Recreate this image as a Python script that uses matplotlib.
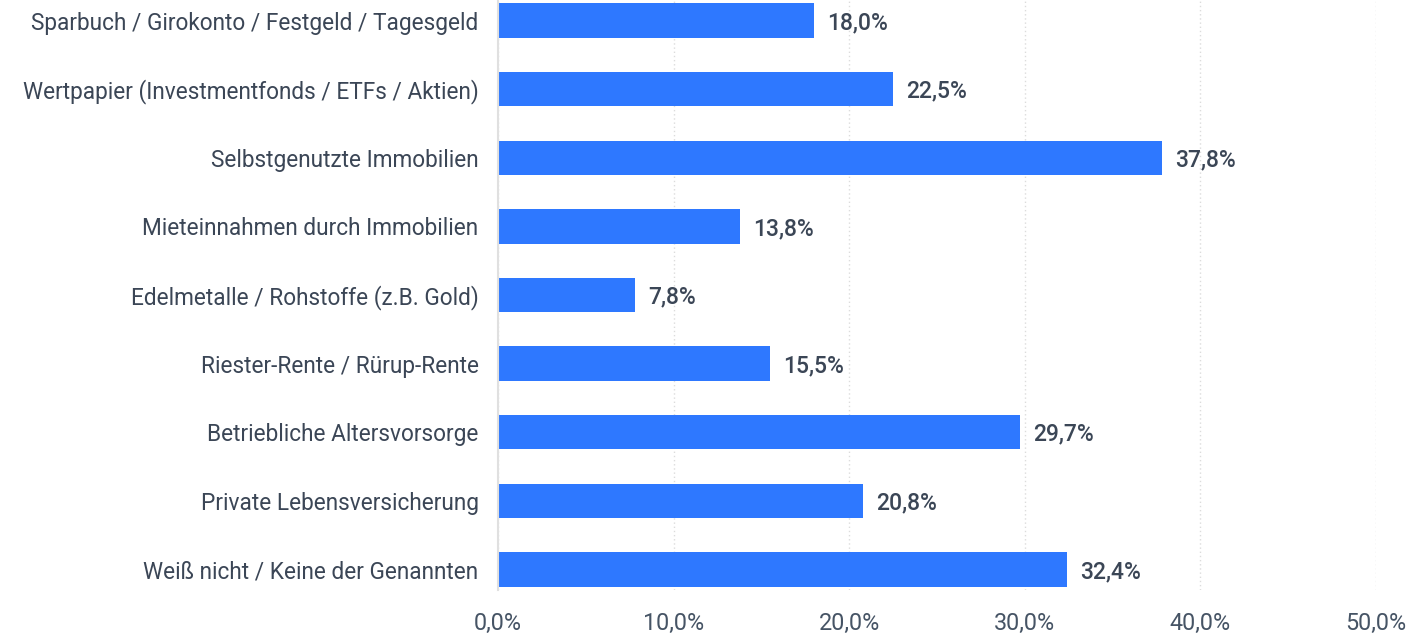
import matplotlib
matplotlib.use("Agg")
import matplotlib.pyplot as plt
from matplotlib.ticker import FuncFormatter

# Data
categories = [
    "Sparbuch / Girokonto / Festgeld / Tagesgeld",
    "Wertpapier (Investmentfonds / ETFs / Aktien)",
    "Selbstgenutzte Immobilien",
    "Mieteinnahmen durch Immobilien",
    "Edelmetalle / Rohstoffe (z.B. Gold)",
    "Riester-Rente / Rürup-Rente",
    "Betriebliche Altersvorsorge",
    "Private Lebensversicherung",
    "Weiß nicht / Keine der Genannten",
]
values = [18.0, 22.5, 37.8, 13.8, 7.8, 15.5, 29.7, 20.8, 32.4]
xticks = [0, 10, 20, 30, 40, 50]

plt.rcParams['font.family'] = ['Roboto', 'DejaVu Sans']
text_col = '#3b4656'
bar_col = '#2e78ff'

fig = plt.figure(figsize=(14.09, 6.36), dpi=100)
ax = fig.add_axes([498/1409, 46/636, (1376-498)/1409, 590/636])

ypos = list(range(len(categories)))
ax.barh(ypos, values, height=0.5, color=bar_col, zorder=3)
for y, v in zip(ypos, values):
    ax.text(v + 0.75, y + 0.03, f"{v:.1f}%".replace('.', ','), va='center', ha='left',
            fontsize=16.5, fontweight='medium', color=text_col)

ax.set_xlim(0, 50)
ax.set_ylim(8.3, -0.3)
ax.set_yticks(ypos)
ax.set_yticklabels(categories, fontsize=16.3, color=text_col)
ax.set_xticks(xticks)
ax.xaxis.set_major_formatter(FuncFormatter(lambda x, p: f"{x:.1f}%".replace('.', ',')))
ax.tick_params(axis='x', labelsize=16.8, labelcolor='#465465', length=0, pad=16)
ax.tick_params(axis='y', length=0, pad=14)

ax.grid(axis='x', linestyle=(0, (1, 2)), color='#dcdcdc', linewidth=1, zorder=0)
for s in ['top', 'right', 'bottom']:
    ax.spines[s].set_visible(False)
ax.spines['left'].set_color('#e0e0e0')
ax.spines['left'].set_linewidth(1.5)
ax.spines['left'].set_zorder(4)

fig.savefig('out.png', dpi=100)
